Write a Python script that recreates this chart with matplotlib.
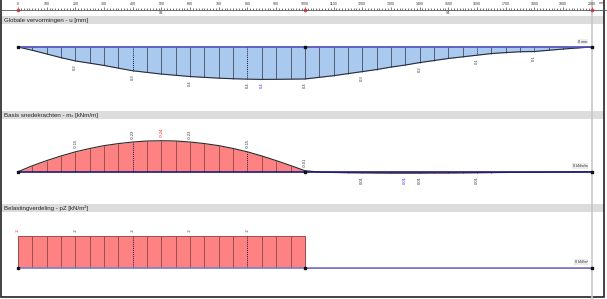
import matplotlib
matplotlib.use("Agg")
import matplotlib.pyplot as plt
import numpy as np
from matplotlib.patches import Rectangle

plt.rcParams["font.family"] = ["Liberation Sans", "DejaVu Sans"]

# stations along the strip [mm], every 50 mm
X = np.arange(0, 2001, 50)
SPAN_EDGES = [0, 1000, 2000]
SPAN_NAMES = ["S3", "S4"]
DOTTED_X = [400, 800, 1600, 1800]

# global deformation u [mm] (positive = downward)
U = np.array([
    0.0, 0.04, 0.085, 0.13, 0.17, 0.197, 0.225, 0.258, 0.29, 0.31,
    0.33, 0.345, 0.36, 0.37, 0.38, 0.387, 0.392, 0.395, 0.394, 0.392,
    0.39, 0.37, 0.35, 0.325, 0.30, 0.275, 0.245, 0.22, 0.19, 0.165,
    0.14, 0.12, 0.10, 0.08, 0.068, 0.058, 0.055, 0.04, 0.025, 0.012, 0.0,
])
U_LABEL_X = [200, 400, 600, 800, 850, 1000, 1200, 1400, 1600, 1800]
U_MAX_X = 850

# basic internal force mx [kNm/m]
MX = np.array([
    0.0, -0.046, -0.086, -0.122, -0.154, -0.18, -0.202, -0.218, -0.23, -0.238,
    -0.24, -0.238, -0.23, -0.218, -0.202, -0.18, -0.154, -0.122, -0.086, -0.048,
    -0.008, 0.003, 0.006, 0.008, 0.009, 0.01, 0.011, 0.011, 0.011, 0.01,
    0.01, 0.009, 0.008, 0.007, 0.006, 0.005, 0.004, 0.003, 0.002, 0.001, 0.0,
])
MX_LABEL_X = [200, 400, 500, 600, 800, 1000, 1200, 1350, 1400, 1600]
MX_MIN_X = 500
MX_MAX_X = 1350

# load distribution pZ [kN/m2] per span
PZ_SPANS = [-2.0, 0.0]
PZ_LABEL_X = [0, 200, 400, 600, 800]
PZ_MIN_X = 0

W, H = 607, 299
X0_PX, X1_PX = 18.0, 591.7
MM_PER_PX = (SPAN_EDGES[-1] - SPAN_EDGES[0]) / (X1_PX - X0_PX)
XLIM = (SPAN_EDGES[0] - X0_PX * MM_PER_PX, SPAN_EDGES[-1] + (W - X1_PX) * MM_PER_PX)

TXT = "#333333"
RED = "#ff0000"
BLUE = "#2a2aff"

fig = plt.figure(figsize=(W / 100, H / 100), dpi=100, facecolor="white")

# background: frame, header bands, titles
bg = fig.add_axes([0, 0, 1, 1], zorder=0)
bg.set_xlim(0, W)
bg.set_ylim(H, 0)
bg.axis("off")
headers = [
    (16, "Globale vervormingen - u [mm]"),
    (111, "Basis snedekrachten - mₓ [kNm/m]"),
    (204, "Belastingverdeling - pZ [kN/m²]"),
]
for top, title in headers:
    bg.add_patch(Rectangle((1, top), W - 4, 8, facecolor="#dcdcdc", edgecolor="none"))
    bg.text(4, top + 4.2, title, fontsize=4.4, va="center", ha="left", color="#222222")
bg.axvline(X0_PX + SPAN_EDGES[-1] / MM_PER_PX, color="#c8c8c8", lw=1.2)
bg.add_patch(Rectangle((1, -1), W - 4, H - 1.5, fill=False, edgecolor="#222222", lw=1.2))
bg.text(598.5, 3.3, "mm", fontsize=2.6, va="center", ha="left", color=TXT)


def px_axes(top, bottom):
    ax = fig.add_axes([0, 1 - bottom / H, 1, (bottom - top) / H], zorder=2)
    ax.set_xlim(XLIM)
    ax.patch.set_alpha(0)
    ax.axis("off")
    return ax


def value_axes(top, bottom, base, px_per_unit):
    ax = px_axes(top, bottom)
    ax.set_ylim((bottom - base) / px_per_unit, -(base - top) / px_per_unit)
    return ax


# ruler
ruler = px_axes(6.5, 9.8)
ruler.axis("on")
ruler.set_ylim(0, 1)
for side in ["top", "left", "right"]:
    ruler.spines[side].set_visible(False)
ruler.spines["bottom"].set_color("#555555")
ruler.spines["bottom"].set_linewidth(0.6)
ruler.set_xticks(np.arange(SPAN_EDGES[0], SPAN_EDGES[-1] + 1, 100))
ruler.set_xticks(np.arange(SPAN_EDGES[0], SPAN_EDGES[-1] + 1, 10), minor=True)
ruler.set_yticks([])
ruler.tick_params(axis="x", which="both", direction="in", bottom=True, top=False,
                  labelbottom=False, labeltop=True, colors="#444444", width=0.5)
ruler.tick_params(axis="x", which="major", length=2.4, labelsize=2.6, pad=0.4, labelcolor=TXT)
ruler.tick_params(axis="x", which="minor", length=1.4)
ruler.plot(SPAN_EDGES, [0] * len(SPAN_EDGES), "o", color="#ff4040", ms=1.7, clip_on=False)
for name, a, b in zip(SPAN_NAMES, SPAN_EDGES[:-1], SPAN_EDGES[1:]):
    ruler.annotate(name, xy=((a + b) / 2, 0), xytext=(0, -0.8), textcoords="offset points",
                   fontsize=2.6, ha="center", va="top", color=TXT)


def draw_diagram(ax, vals, fill, edge, vcolor, base_color):
    dotted = np.isin(X, DOTTED_X)
    ax.fill_between(X, 0, vals, color=fill, lw=0)
    ax.vlines(X[~dotted], 0, vals[~dotted], color=vcolor, lw=0.7)
    ax.vlines(X[dotted], 0, vals[dotted], color="#1a1a50", lw=0.7, linestyles=(0, (1, 1)))
    ax.plot(X, vals, color=edge, lw=0.8)
    ax.hlines(0, X[0], X[-1], color=base_color, lw=1.2)
    ax.plot(SPAN_EDGES, [0] * len(SPAN_EDGES), "s", color="#111111", ms=1.6)


def put_labels(ax, vals, label_x, fmt, red_x=None, blue_x=None):
    for x in label_x:
        v = vals[np.searchsorted(X, x)]
        color = RED if x == red_x else BLUE if x == blue_x else TXT
        up = v < 0
        ax.annotate(format(v, fmt), xy=(x, v), xytext=(0, 2.5 if up else -2.5),
                    textcoords="offset points", rotation=90, fontsize=3.0,
                    ha="center", va="bottom" if up else "top", color=color)


def end_label(ax, text):
    ax.annotate(text, xy=(X[-1], 0), xytext=(-3, 2.5), textcoords="offset points",
                fontsize=2.7, ha="right", va="bottom", color=TXT,
                bbox=dict(boxstyle="square,pad=0.25", fc="#ececec", ec="none"))


# deformation
ax1 = value_axes(24, 110, 47, 82)
draw_diagram(ax1, U, "#a9c9ef", "#2a2a3a", "#4f5d74", "#4a4ab8")
put_labels(ax1, U, U_LABEL_X, ".1f", blue_x=U_MAX_X)
end_label(ax1, "0 mm")

# moment
ax2 = value_axes(118, 204, 171.7, 129)
draw_diagram(ax2, MX, "#ff8282", "#2a2a2a", "#9a4f4f", "#1c1c80")
put_labels(ax2, MX, MX_LABEL_X, ".2f", red_x=MX_MIN_X, blue_x=MX_MAX_X)
end_label(ax2, "0 kNm/m")

# load
ax3 = value_axes(212, 295, 267.7, 16)
span_idx = np.clip(np.searchsorted(SPAN_EDGES, X, side="left") - 1, 0, len(PZ_SPANS) - 1)
PZ = np.array(PZ_SPANS)[span_idx]
ax3.stairs(PZ_SPANS, SPAN_EDGES, fill=True, color="#ff8282", lw=0)
dotted = np.isin(X, DOTTED_X)
left = (X <= SPAN_EDGES[1])
ax3.vlines(X[left & ~dotted], 0, PZ[left & ~dotted], color="#9a4f4f", lw=0.7)
ax3.vlines(X[left & dotted], 0, PZ[left & dotted], color="#1a1a50", lw=0.7, linestyles=(0, (1, 1)))
ax3.stairs(PZ_SPANS, SPAN_EDGES, color="#9a4f4f", lw=0.7)
ax3.hlines(0, X[0], X[-1], color="#7a7ad0", lw=1.2)
ax3.plot(SPAN_EDGES, [0] * len(SPAN_EDGES), "s", color="#111111", ms=1.6)
put_labels(ax3, PZ, PZ_LABEL_X, "g", red_x=PZ_MIN_X)
end_label(ax3, "0 kN/m²")

fig.savefig("out.png", dpi=100, facecolor="white")
